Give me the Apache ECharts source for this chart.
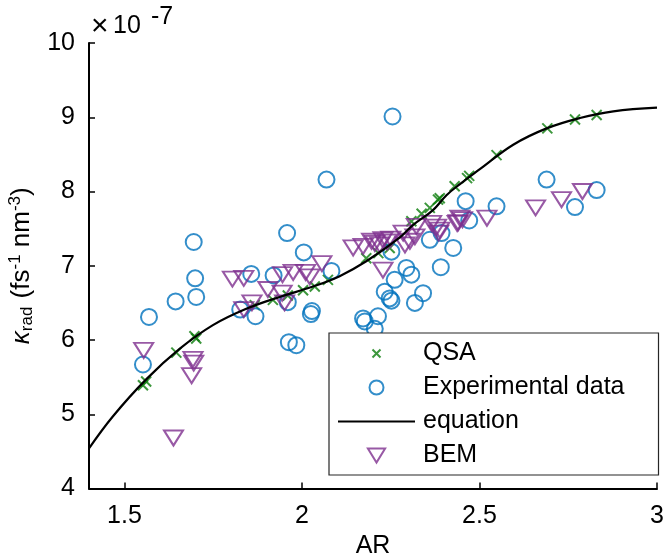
<!DOCTYPE html>
<html>
<head>
<meta charset="utf-8">
<script src="https://cdn.jsdelivr.net/npm/echarts@6/dist/echarts.min.js"></script>
<style>
html,body{margin:0;padding:0;background:#fff;overflow:hidden;}
#c{width:666px;height:556px;}
</style>
</head>
<body>
<div id="c"></div>
<script>
// Data (y values in units of 1e-7)
var qsaX = [1.552,1.561,1.646,1.697,1.702,1.867,1.918,1.960,2.003,2.036,2.073,2.181,2.215,2.247,2.308,2.337,2.360,2.383,2.388,2.430,2.465,2.471,2.548,2.691,2.769,2.830];
var qsaY = [5.39,5.44,5.83,6.05,6.02,6.47,6.54,6.60,6.67,6.72,6.81,7.10,7.17,7.24,7.60,7.70,7.78,7.89,7.91,8.07,8.18,8.21,8.49,8.85,8.97,9.03];

var expX = [1.552,1.569,1.644,1.695,1.699,1.702,1.826,1.857,1.869,1.920,1.958,1.960,1.963,1.984,2.005,2.025,2.028,2.069,2.083,2.172,2.177,2.205,2.214,2.233,2.247,2.252,2.261,2.294,2.308,2.318,2.341,2.391,2.252,2.255,2.360,2.393,2.426,2.461,2.471,2.548,2.689,2.769,2.830];
var expY = [5.67,6.31,6.52,7.32,6.83,6.58,6.41,6.89,6.32,6.87,7.44,6.51,5.97,5.93,7.18,6.35,6.39,8.16,6.93,6.29,6.25,6.15,6.32,6.65,6.56,6.53,6.81,6.97,6.88,6.50,6.63,6.98,7.19,9.01,7.35,7.44,7.24,7.87,7.61,7.80,8.16,7.79,8.02];

var eqX = [1.40,1.467,1.561,1.655,1.749,1.843,1.937,2.031,2.106,2.181,2.275,2.313,2.369,2.407,2.445,2.501,2.595,2.689,2.783,2.877,3.0];
var eqY = [4.54,4.97,5.47,5.88,6.20,6.42,6.58,6.72,6.86,7.06,7.38,7.55,7.75,7.95,8.10,8.30,8.63,8.85,8.99,9.08,9.13];

var bemX = [1.554,1.638,1.689,1.693,1.695,1.804,1.836,1.836,1.859,1.904,1.944,1.945,1.951,1.975,2.010,2.022,2.056,2.144,2.172,2.196,2.205,2.219,2.228,2.228,2.240,2.250,2.285,2.290,2.304,2.318,2.322,2.365,2.379,2.385,2.388,2.437,2.440,2.445,2.452,2.521,2.658,2.731,2.790];
var bemY = [5.86,4.68,5.52,5.74,5.69,6.82,6.83,6.41,6.50,6.68,6.63,6.88,6.50,6.91,6.91,6.85,7.03,7.24,7.26,7.33,7.30,7.28,7.35,6.94,7.32,7.36,7.44,7.28,7.33,7.39,7.53,7.57,7.52,7.44,7.48,7.57,7.58,7.64,7.62,7.64,7.78,7.89,8.00];

var xTicks = [1.5, 2, 2.5, 3];
var xTickLabels = ['1.5', '2', '2.5', '3'];
var yTicks = [4, 5, 6, 7, 8, 9, 10];
var legendNames = ['QSA', 'Experimental data', 'equation', 'BEM'];

function pairs(xs, ys){ var o=[]; for (var i=0;i<xs.length;i++) o.push([xs[i], ys[i]]); return o; }

var FONT = 'Liberation Sans, Arial, sans-serif';
var FS = 25;
var chart = echarts.init(document.getElementById('c'));
chart.setOption({
  animation: false,
  backgroundColor: '#fff',
  grid: {left: 89, right: 9, top: 43, bottom: 67.5, containLabel: false, outerBoundsMode: 'none'},
  xAxis: {
    type: 'value', min: 1.4, max: 3,
    name: 'AR', nameLocation: 'middle', nameGap: 40,
    nameTextStyle: {fontFamily: FONT, fontSize: FS, color: '#000'},
    axisLine: {show: true, onZero: false, lineStyle: {color: '#000', width: 2}},
    axisTick: {show: true, inside: true, length: 6, customValues: xTicks, lineStyle: {color: '#000', width: 1.5}},
    axisLabel: {customValues: xTicks, margin: 15, fontFamily: FONT, fontSize: FS, color: '#000',
      formatter: function(v){ var i = xTicks.indexOf(v); return i >= 0 ? xTickLabels[i] : ''; }},
    splitLine: {show: false}
  },
  yAxis: {
    type: 'value', min: 4, max: 10, interval: 1,
    name: '{k|κ}{sub|rad}{n| (fs}{sup|-1}{n| nm}{sup|-3}{n|)}',
    nameLocation: 'middle', nameRotate: 90, nameGap: 52,
    nameTextStyle: {
      fontFamily: FONT, fontSize: 26, color: '#000',
      rich: {
        k: {fontFamily: FONT, fontSize: 26, fontStyle: 'italic', color: '#000'},
        n: {fontFamily: FONT, fontSize: 26, color: '#000'},
        sub: {fontFamily: FONT, fontSize: 17, color: '#000', padding: [12, 1, 0, 0]},
        sup: {fontFamily: FONT, fontSize: 17, color: '#000', padding: [0, 0, 12, 0]}
      }
    },
    axisLine: {show: true, onZero: false, lineStyle: {color: '#000', width: 2}},
    axisTick: {show: true, inside: true, length: 6, lineStyle: {color: '#000', width: 1.5}},
    axisLabel: {margin: 14, fontFamily: FONT, fontSize: FS, color: '#000'},
    splitLine: {show: false}
  },
  legend: {
    orient: 'vertical', left: 329, top: 333,
    padding: [8, 34, 7, 9],
    itemWidth: 77, itemHeight: 14, itemGap: 9,
    symbolRotate: 0,
    backgroundColor: '#fff', borderColor: '#262626', borderWidth: 1.2, borderRadius: 0,
    textStyle: {fontFamily: FONT, fontSize: FS, lineHeight: 25, color: '#000', padding: [0, 0, 0, 3]},
    data: [
      {name: legendNames[0], icon: 'path://M0,0M14,14M3,3L11,11M11,3L3,11'},
      {name: legendNames[1], icon: 'circle'},
      {name: legendNames[2], icon: 'path://M0,0L77,0L77,2L0,2Z', itemStyle: {color: '#000', borderWidth: 0}},
      {name: legendNames[3], icon: 'path://M0,0L16,0L8,13Z'}
    ]
  },
  graphic: [
    {type: 'text', left: 91, top: 12, style: {text: '×', font: '30px ' + FONT, fill: '#000'}},
    {type: 'text', left: 113, top: 14, style: {text: '10', font: FS + 'px ' + FONT, fill: '#000'}},
    {type: 'text', left: 151, top: 5, style: {text: '-7', font: FS + 'px ' + FONT, fill: '#000'}}
  ],
  series: [
    {
      name: legendNames[0], type: 'scatter', data: pairs(qsaX, qsaY),
      symbol: 'path://M0,0L10,10M10,0L0,10', symbolSize: 10,
      itemStyle: {color: 'none', borderColor: '#0b7d0b', borderWidth: 2}
    },
    {
      name: legendNames[1], type: 'scatter', data: pairs(expX, expY),
      symbol: 'circle', symbolSize: 16,
      itemStyle: {color: 'none', borderColor: '#0072BD', borderWidth: 2}
    },
    {
      name: legendNames[2], type: 'line', data: pairs(eqX, eqY),
      smooth: 0.4, showSymbol: false, symbol: 'none',
      lineStyle: {color: '#000', width: 2.2}, itemStyle: {color: '#000'}
    },
    {
      name: legendNames[3], type: 'scatter', data: pairs(bemX, bemY),
      symbol: 'triangle', symbolRotate: 180, symbolSize: [19, 15],
      itemStyle: {color: 'none', borderColor: '#7E2F8E', borderWidth: 2}
    }
  ]
});
</script>
</body>
</html>
